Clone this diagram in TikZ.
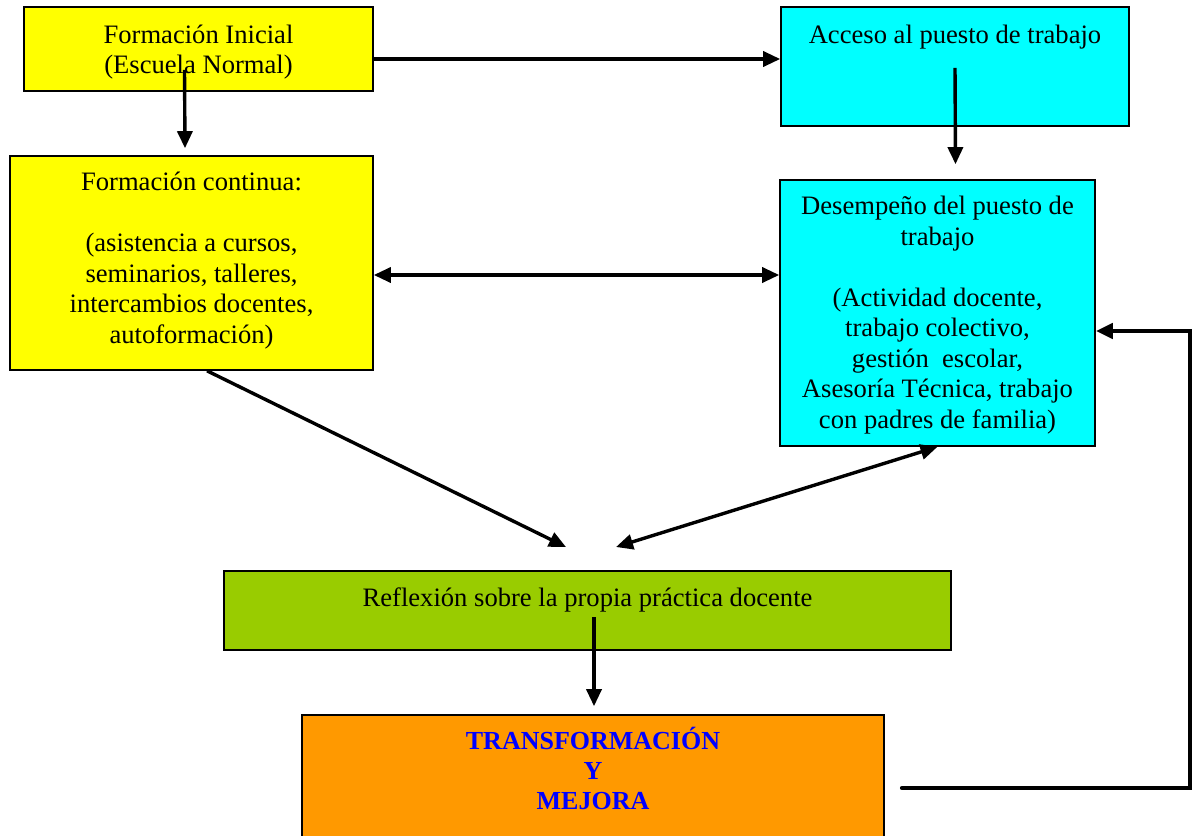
\documentclass[tikz,border=0pt]{standalone}
\usepackage{fontspec}
\setmainfont{Liberation Serif}
\usepackage{tikz}
\usetikzlibrary{arrows.meta,positioning,fit}
\definecolor{boxyellow}{RGB}{255,255,0}
\definecolor{boxcyan}{RGB}{0,255,255}
\definecolor{boxgreen}{RGB}{153,204,0}
\definecolor{boxorange}{RGB}{255,153,0}
\definecolor{textblue}{RGB}{0,0,255}

\begin{document}
\begin{tikzpicture}[
    x=0.5pt, y=-0.5pt,
    box/.style={rectangle, draw, line width=0.8pt, inner sep=0pt},
    yellowbox/.style={box, fill=boxyellow},
    cyanbox/.style={box, fill=boxcyan},
    greenbox/.style={box, fill=boxgreen},
    orangebox/.style={box, fill=boxorange},
    txt/.style={anchor=north, inner sep=0pt, align=center, font=\fontsize{13.3}{15.25}\selectfont},
    bigtxt/.style={txt, font=\fontsize{13}{15}\selectfont\bfseries, text=textblue},
    arrow/.style={-{Triangle[length=8.5pt, width=7.5pt]}, line width=1.7pt},
    twoway/.style={{Triangle[length=8.5pt, width=7.5pt]}-{Triangle[length=8.5pt, width=7.5pt]}, line width=1.7pt},
    loopline/.style={-{Triangle[length=8.5pt, width=7.5pt]}, line width=2.1pt, line cap=round}
]
    \useasboundingbox (0,0) rectangle (1193,835);

    \node[yellowbox, fit={(24,7) (373,91)}] (ini) {};
    \node[txt, below=9pt of ini.north] (initxt) {Formación Inicial\\(Escuela Normal)};

    \node[cyanbox, fit={(781,7) (1129,126)}] (acc) {};
    \node[txt, below=9pt of acc.north] (acctxt) {Acceso al puesto de trabajo};

    \node[yellowbox, fit={(10,156) (373,370)}] (cont) {};
    \node[txt, below=8.2pt of cont.north] (conttxt) {Formación continua:\\[15.25pt](asistencia a cursos,\\seminarios, talleres,\\intercambios docentes,\\autoformación)};

    \node[cyanbox, fit={(780,180) (1095,446)}] (des) {};
    \node[txt, below=8.4pt of des.north] (destxt) {Desempeño del puesto de\\trabajo\\[15.25pt](Actividad docente,\\trabajo colectivo,\\gestión\ \ escolar,\\Asesoría Técnica, trabajo\\con padres de familia)};

    \node[greenbox, fit={(224,571) (951,650)}] (refl) {};
    \node[txt, below=8.5pt of refl.north] (refltxt) {Reflexión sobre la propia práctica docente};

    \node[orangebox, fit={(302,715) (884,850)}] (trans) {};
    \node[bigtxt, below=6.3pt of trans.north] (transtxt) {TRANSFORMACIÓN\\Y\\MEJORA};

    \coordinate (toA) at (566,547);
    \coordinate (toB) at (616,547);
    \coordinate (fbstart) at (902,788);
    \coordinate (fbcorner) at (1190,788);

    \draw[arrow] ([yshift=-5pt]ini.east) -- ([yshift=3.75pt]acc.west);
    \draw[arrow] ([shift={(-7pt,11pt)}]ini.south) -- ([shift={(-3.25pt,3.5pt)}]cont.north);
    \draw[arrow] ([yshift=29.5pt]acc.south) -- ([shift={(9pt,7.5pt)}]des.north);
    \draw[twoway] ([yshift=-6pt]cont.east) -- ([yshift=19pt]des.west);
    \draw[arrow] ([xshift=7.75pt]cont.south) -- (toA);
    \draw[twoway] (toB) -- (des.south);
    \draw[arrow] ([shift={(3.25pt,-23.5pt)}]refl.north) -- ([shift={(0.5pt,4pt)}]trans.north);
    \draw[loopline] (fbstart) -- (fbcorner) |- ([yshift=-9pt]des.east);
\end{tikzpicture}
\end{document}
